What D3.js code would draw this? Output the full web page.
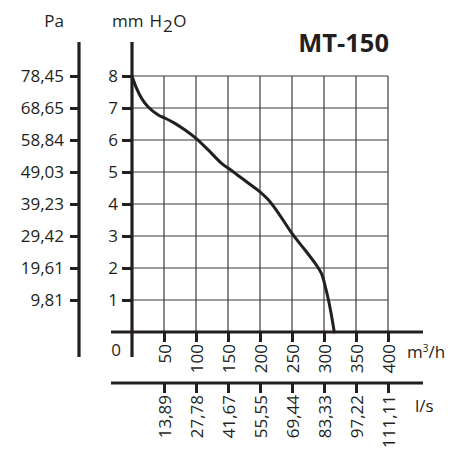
<!DOCTYPE html>
<html>
<head>
<meta charset="utf-8">
<script src="https://cdn.jsdelivr.net/npm/d3@7"></script>
<style>
  html, body { margin: 0; padding: 0; background: #fff; }
  svg text { font-family: "Open Sans", "Noto Sans", sans-serif; fill: #231f20; }
</style>
</head>
<body>
<div id="chart"></div>
<script>
// ---- data ----
const flowTicks = [50, 100, 150, 200, 250, 300, 350, 400];          // m³/h
const lsLabels = ["13,89", "27,78", "41,67", "55,55", "69,44", "83,33", "97,22", "111,11"]; // l/s
const pressureTicks = [1, 2, 3, 4, 5, 6, 7, 8];                      // mm H2O
const paLabels = ["9,81", "19,61", "29,42", "39,23", "49,03", "58,84", "68,65", "78,45"]; // Pa
const curveFlow = [0, 7, 15, 25, 41, 52, 67, 83, 100, 119, 140, 158, 182, 200, 213, 229, 250, 270, 286, 296, 302, 307, 312, 316];
const curvePressure = [8, 7.62, 7.3, 7.04, 6.78, 6.68, 6.52, 6.31, 6.05, 5.69, 5.27, 5.01, 4.65, 4.38, 4.13, 3.71, 3.08, 2.57, 2.15, 1.83, 1.42, 1.0, 0.48, 0];
const title = "MT-150";

// ---- layout ----
const W = 452, H = 449;
const svg = d3.select("#chart").append("svg").attr("width", W).attr("height", H);

const x = d3.scaleLinear().domain([0, 400]).range([132, 388]);
const y = d3.scaleLinear().domain([0, 8]).range([332, 76]);
const ink = "#231f20";
const fs = 17;

// grid
const grid = svg.append("g");
grid.selectAll("line.v").data(flowTicks).join("line")
  .attr("x1", d => x(d)).attr("x2", d => x(d))
  .attr("y1", y(0)).attr("y2", y(8))
  .attr("stroke", "#3a3a3a").attr("stroke-width", 1.2);
grid.selectAll("line.h").data(pressureTicks).join("line")
  .attr("x1", x(0)).attr("x2", x(400))
  .attr("y1", d => y(d)).attr("y2", d => y(d))
  .attr("stroke", "#3a3a3a").attr("stroke-width", 1.2);

// curve
const pts = curveFlow.map((f, i) => [f, curvePressure[i]]);
svg.append("path")
  .attr("d", d3.line().x(d => x(d[0])).y(d => y(d[1])).curve(d3.curveCatmullRom.alpha(0.5))(pts))
  .attr("fill", "none").attr("stroke", ink).attr("stroke-width", 3)
  .attr("stroke-linecap", "round");

// main y axis (mm H2O)
const yAxis = svg.append("g").attr("transform", `translate(${x(0)},0)`)
  .call(d3.axisLeft(y).tickValues(pressureTicks).tickSize(10).tickPadding(4).tickFormat(d3.format("d")));
yAxis.select(".domain").remove();
yAxis.selectAll(".tick line").attr("stroke", ink).attr("stroke-width", 3);
yAxis.selectAll(".tick text").attr("font-size", fs).attr("font-family", null).attr("fill", ink);
svg.append("line").attr("x1", x(0)).attr("x2", x(0)).attr("y1", 42).attr("y2", 357)
  .attr("stroke", ink).attr("stroke-width", 3.2);

// Pa axis
const paX = 79;
const paAxis = svg.append("g").attr("transform", `translate(${paX},0)`)
  .call(d3.axisLeft(y).tickValues(pressureTicks).tickSize(9).tickPadding(6).tickFormat((d, i) => paLabels[i]));
paAxis.select(".domain").remove();
paAxis.selectAll(".tick line").attr("stroke", ink).attr("stroke-width", 3);
paAxis.selectAll(".tick text").attr("font-size", fs).attr("font-family", null).attr("fill", ink);
svg.append("line").attr("x1", paX).attr("x2", paX).attr("y1", 42).attr("y2", 357)
  .attr("stroke", ink).attr("stroke-width", 3.2);

// main x axis (m³/h)
const xAxis = svg.append("g").attr("transform", `translate(0,${y(0)})`)
  .call(d3.axisBottom(x).tickValues(flowTicks).tickSize(10).tickFormat(d3.format("d")));
xAxis.select(".domain").remove();
xAxis.selectAll(".tick line").attr("stroke", ink).attr("stroke-width", 3);
xAxis.selectAll(".tick text").attr("font-size", fs).attr("font-family", null).attr("fill", ink)
  .attr("transform", "rotate(-90)").attr("text-anchor", "end")
  .attr("x", -12).attr("y", 0).attr("dy", "0.36em");
svg.append("line").attr("x1", 111).attr("x2", 423).attr("y1", y(0)).attr("y2", y(0))
  .attr("stroke", ink).attr("stroke-width", 3.2);

// l/s axis
const lsY = 383;
const lsAxis = svg.append("g").attr("transform", `translate(0,${lsY})`)
  .call(d3.axisBottom(x).tickValues(flowTicks).tickSize(10).tickFormat((d, i) => lsLabels[i]));
lsAxis.select(".domain").remove();
lsAxis.selectAll(".tick line").attr("stroke", ink).attr("stroke-width", 3);
lsAxis.selectAll(".tick text").attr("font-size", fs).attr("font-family", null).attr("fill", ink)
  .attr("transform", "rotate(-90)").attr("text-anchor", "end")
  .attr("x", -12).attr("y", 0).attr("dy", "0.36em");
svg.append("line").attr("x1", 111).attr("x2", 423).attr("y1", lsY).attr("y2", lsY)
  .attr("stroke", ink).attr("stroke-width", 3.2);

// zero label
svg.append("text").attr("x", 116).attr("y", 356).attr("text-anchor", "middle")
  .attr("font-size", fs).text("0");

// unit labels
svg.append("text").attr("x", 54).attr("y", 27).attr("text-anchor", "middle")
  .attr("font-size", fs).text("Pa");
const mm = svg.append("text").attr("x", 112).attr("y", 27).attr("font-size", fs);
mm.append("tspan").text("mm");
mm.append("tspan").attr("dx", 6).text("H");
mm.append("tspan").attr("dy", 5).attr("dx", 1).text("2");
mm.append("tspan").attr("dy", -5).attr("dx", 0.5).text("O");

const m3 = svg.append("text").attr("x", 407).attr("y", 358).attr("font-size", fs);
m3.append("tspan").text("m");
m3.append("tspan").attr("dy", -6).attr("font-size", 10).text("3");
m3.append("tspan").attr("dy", 6).text("/h");

svg.append("text").attr("x", 415).attr("y", 412).attr("font-size", fs).text("l/s");

// title
svg.append("text").attr("x", 389).attr("y", 52).attr("text-anchor", "end")
  .attr("font-size", 25.5).attr("font-weight", "bold").text(title);
</script>
</body>
</html>
